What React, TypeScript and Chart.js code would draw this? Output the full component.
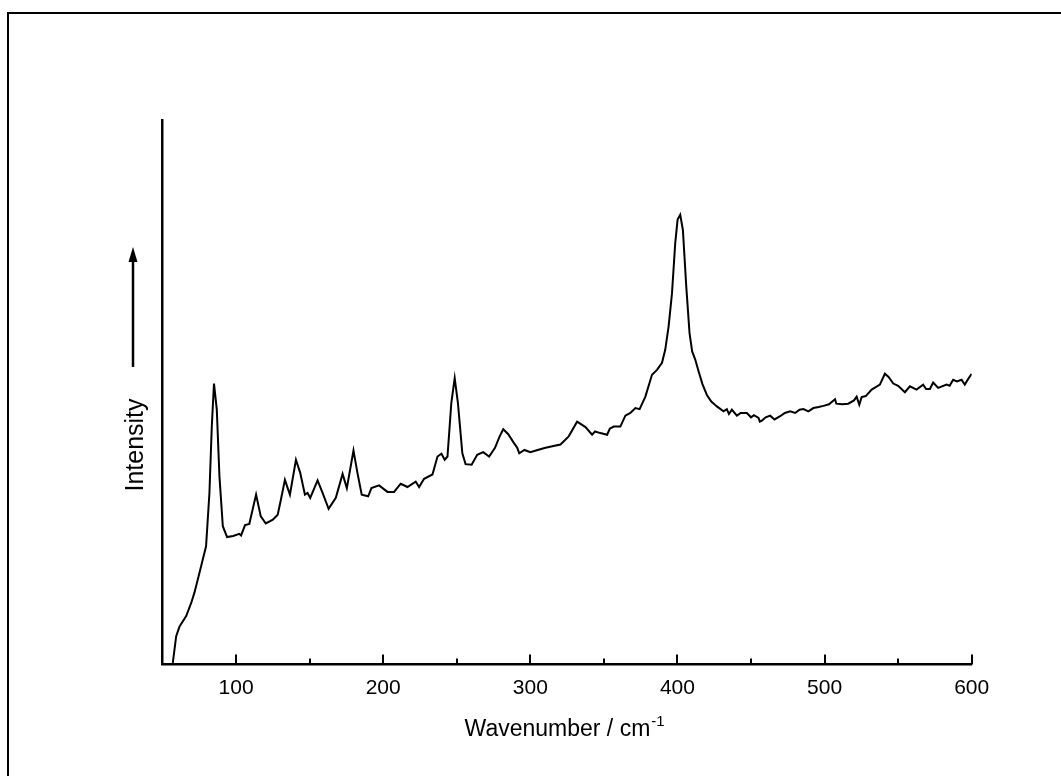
import React, { useEffect, useRef } from "react";
import { Chart, registerables } from "chart.js";

Chart.register(...registerables);

// Raman spectrum
const wavenumbers: number[] = [
  57, 59.3, 61.6, 66.1, 69.5, 71.7, 75.1, 79.6, 81.9, 83.5, 85.0, 86.9, 88.7, 91.0, 93.9, 98,
  102.2, 103.4, 106.1, 109, 113.6, 116.8, 120.2, 125, 128.3, 130.5, 133.2, 136.6, 140.7, 143.6,
  146.8, 148.6, 150.4, 155.4, 158.8, 162.9, 167.8, 172.4, 175.3, 179.8, 182.5, 185.4, 189.8,
  192.0, 197.2, 202.9, 207.4, 211.9, 216.5, 222.1, 224.4, 227.8, 233.5, 236.9, 239.6, 241.8,
  243.7, 246.3, 248.6, 250.8, 253.8, 256.0, 260.1, 263.9, 268, 272, 276, 279, 281.6, 285,
  288.8, 291.1, 292.5, 296, 300, 305, 310.3, 315, 320.5, 326.1, 331.8, 337.5, 342.0, 344,
  347.6, 352.2, 354, 356.7, 361.2, 364.6, 368, 371.4, 374.3, 378.2, 382.7, 386.1, 389.5,
  391.7, 394.0, 396.3, 398.5, 400.1, 401.9, 403.7, 406.0, 408.2, 410, 412.1, 414.4, 417,
  420.0, 423, 426.8, 431.3, 433.6, 435, 437, 440.4, 443, 447.2, 450, 452, 455.1, 456, 457.4,
  460, 463.0, 466, 469.8, 473, 476.6, 480, 483, 485.6, 489, 492.4, 496, 499.2, 503, 507.1,
  508, 512, 516.1, 520, 521.8, 523.6, 525.2, 528, 532.0, 537.6, 541.0, 543.5, 546.7, 550,
  554.6, 558.0, 562.5, 567.0, 569, 571.6, 573.8, 577.2, 582.9, 585, 587.4, 590, 593.1, 595.3,
  598, 600,
];

const intensities: number[] = [
  0.3, 5.2, 7.0, 8.9, 11.3, 13.2, 16.8, 21.7, 31.5, 43.7, 51.6, 46.8, 34.6, 25.4, 23.4, 23.6,
  24.0, 23.7, 25.6, 25.8, 31.2, 27.2, 25.9, 26.6, 27.5, 30.3, 33.9, 31.2, 37.6, 35.2,
  31.2, 31.5, 30.6, 33.8, 31.5, 28.6, 30.6, 35.0, 32.4, 39.3, 35.2, 31.2, 30.9,
  32.4, 32.9, 31.7, 31.7, 33.2, 32.6, 33.6, 32.6, 34.1, 34.9, 38.2, 38.7, 37.6,
  38.2, 48.0, 52.6, 48.0, 38.8, 36.8, 36.7, 38.5, 39.0, 38.2, 39.8, 41.8, 43.2, 42.3,
  40.7, 39.8, 38.8, 39.4, 39.0, 39.4, 39.8, 40.1, 40.4, 41.9, 44.6, 43.6, 42.2, 42.8,
  42.5, 42.2, 43.3, 43.7, 43.7, 45.7, 46.2, 47.1, 46.9, 49.2, 53.2, 54.1, 55.4,
  57.8, 62.1, 68.2, 77.4, 81.7, 82.6, 79.8, 69.4, 60.9, 57.5, 56.0, 53.8, 51.5,
  49.5, 48.3, 47.4, 46.5, 46.9, 46.0, 46.8, 45.7, 46.2, 46.2, 45.4, 45.8, 45.3, 44.6, 44.8,
  45.4, 45.7, 45.0, 45.6, 46.2, 46.5, 46.2, 46.8, 46.9, 46.5, 47.1, 47.3, 47.5, 47.8, 48.7,
  47.9, 47.8, 47.9, 48.5, 49.2, 47.7, 49.1, 49.3, 50.5, 51.4, 53.4, 52.8, 51.6, 51.2,
  50.0, 51.1, 50.5, 51.4, 50.6, 50.6, 51.8, 50.8, 51.4, 51.2, 52.3, 52.0, 52.3, 51.4,
  52.6, 53.4,
];

const xTickLabels: number[] = [100, 200, 300, 400, 500, 600];
const xMinorTicks: number[] = [150, 250, 350, 450, 550];
const xTitle = "Wavenumber / cm";
const xTitleSup = "-1";
const yTitle = "Intensity";

const FONT = "'Liberation Sans', Arial, Helvetica, sans-serif";

const decorPlugin = {
  id: "decor",
  beforeDraw(chart: any) {
    const ctx = chart.ctx;
    ctx.save();
    ctx.strokeStyle = "#000";
    ctx.lineWidth = 2;
    ctx.beginPath();
    ctx.moveTo(7, 13);
    ctx.lineTo(1061, 13);
    ctx.moveTo(8, 13);
    ctx.lineTo(8, 776);
    ctx.stroke();
    ctx.restore();
  },
  afterDraw(chart: any) {
    const ctx = chart.ctx;
    const xs = chart.scales.x;
    const area = chart.chartArea;
    ctx.save();
    ctx.strokeStyle = "#000";
    ctx.lineWidth = 2;
    ctx.beginPath();
    xTickLabels.forEach((v) => {
      const px = Math.round(xs.getPixelForValue(v));
      ctx.moveTo(px, area.bottom);
      ctx.lineTo(px, area.bottom - 10);
    });
    xMinorTicks.forEach((v) => {
      const px = Math.round(xs.getPixelForValue(v));
      ctx.moveTo(px, area.bottom);
      ctx.lineTo(px, area.bottom - 6);
    });
    ctx.stroke();

    // x title with superscript
    ctx.fillStyle = "#000";
    ctx.font = `23px ${FONT}`;
    ctx.textBaseline = "alphabetic";
    const mainW = ctx.measureText(xTitle).width;
    ctx.font = `15px ${FONT}`;
    const supW = ctx.measureText(xTitleSup).width;
    const cx = (area.left + area.right) / 2 - 3;
    const startX = cx - (mainW + supW) / 2;
    const baseY = 736;
    ctx.font = `23px ${FONT}`;
    ctx.textAlign = "left";
    ctx.fillText(xTitle, startX, baseY);
    ctx.font = `15px ${FONT}`;
    ctx.fillText(xTitleSup, startX + mainW + 1, baseY - 10);

    // y title with arrow
    ctx.save();
    ctx.translate(143, 445);
    ctx.rotate(-Math.PI / 2);
    ctx.font = `25px ${FONT}`;
    ctx.textAlign = "center";
    ctx.textBaseline = "alphabetic";
    ctx.fillText(yTitle, 0, 0);
    ctx.restore();

    ctx.lineWidth = 2.5;
    ctx.beginPath();
    ctx.moveTo(133, 367);
    ctx.lineTo(133, 258);
    ctx.stroke();
    ctx.beginPath();
    ctx.moveTo(133, 247);
    ctx.lineTo(128.5, 262);
    ctx.lineTo(137.5, 262);
    ctx.closePath();
    ctx.fill();
    ctx.restore();
  },
};

export default function App() {
  const canvasRef = useRef<HTMLCanvasElement | null>(null);

  useEffect(() => {
    if (!canvasRef.current) return;
    const chart = new Chart(canvasRef.current, {
      type: "line",
      data: {
        datasets: [
          {
            data: wavenumbers.map((w, i) => ({ x: w, y: intensities[i] })),
            borderColor: "#000",
            borderWidth: 2,
            pointRadius: 0,
            tension: 0,
            fill: false,
          },
        ],
      },
      options: {
        animation: false,
        responsive: false,
        maintainAspectRatio: false,
        devicePixelRatio: 1,
        layout: { padding: { left: 162.5, top: 120, right: 89.3, bottom: 71.5 } },
        plugins: { legend: { display: false }, tooltip: { enabled: false } },
        scales: {
          x: {
            type: "linear",
            min: 50,
            max: 600,
            afterBuildTicks: (scale: any) => {
              scale.ticks = xTickLabels.map((v) => ({ value: v }));
            },
            afterFit: (scale: any) => {
              scale.height = 40;
            },
            grid: { display: false, drawTicks: false },
            border: { display: true, color: "#000", width: 2.5 },
            ticks: {
              color: "#000",
              padding: 11,
              maxRotation: 0,
              autoSkip: false,
              font: { family: FONT, size: 21 },
            },
          },
          y: {
            type: "linear",
            min: 0,
            max: 100,
            afterFit: (scale: any) => {
              scale.width = 0;
            },
            grid: { display: false, drawTicks: false },
            border: { display: true, color: "#000", width: 2.5 },
            ticks: { display: false },
          },
        },
      },
      plugins: [decorPlugin],
    });
    return () => chart.destroy();
  }, []);

  return (
    <div style={{ position: "fixed", left: 0, top: 0, width: 1061, height: 776, background: "#fff" }}>
      <canvas ref={canvasRef} width={1061} height={776} style={{ width: 1061, height: 776 }} />
    </div>
  );
}
